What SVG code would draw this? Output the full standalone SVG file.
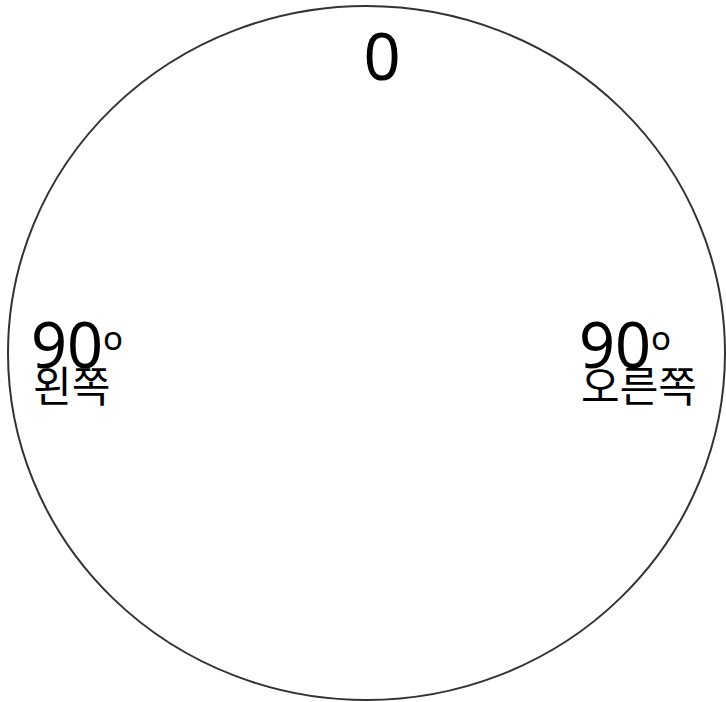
<svg xmlns="http://www.w3.org/2000/svg" width="726" height="702" viewBox="0 0 726 702">
<style>
.t{font-family:"Noto Sans","Noto Sans CJK KR",sans-serif;fill:#000}
.ko{font-family:"Noto Sans CJK KR",sans-serif;fill:#000}
</style>
<rect width="726" height="702" fill="#fff"/>
<g id="circle">
<ellipse cx="366.5" cy="353" rx="358.5" ry="347" fill="none" stroke="#333" stroke-width="2"/>
</g>
<g id="top">
<text class="t" x="382" y="80" font-size="65" text-anchor="middle">0</text>
</g>
<g id="left">
<text class="t" x="31" y="368" font-size="63">90<tspan font-size="33" dy="-18">o</tspan></text>
<text class="ko" x="33" y="402" font-size="42">왼쪽</text>
</g>
<g id="right">
<text class="t" x="579" y="368" font-size="63">90<tspan font-size="33" dy="-18">o</tspan></text>
<text class="ko" x="581" y="402" font-size="42">오른쪽</text>
</g>
</svg>
